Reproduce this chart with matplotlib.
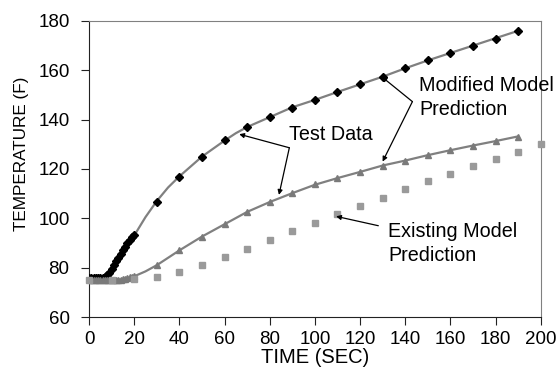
import matplotlib
matplotlib.use("Agg")
import matplotlib.pyplot as plt

plt.rcParams['font.family'] = ['Liberation Sans', 'DejaVu Sans']

# Test data, upper case (black diamonds)
test_up_t = list(range(0, 21)) + [30, 40, 50, 60, 70, 80, 90, 100, 110, 120, 130, 140, 150, 160, 170, 180, 190]
test_up_y = [76, 76, 76, 76, 76, 76, 76, 76.3, 77, 78, 79.5, 81, 82.5, 84, 85.5, 87, 88.5, 90, 91.3, 92.3, 93.3,
             106.8, 116.8, 124.9, 131.6, 137, 140.9, 144.9, 148, 151.2, 154.3, 157.4, 160.8, 164.1, 167, 170, 172.8, 176]

# Test data, lower case (gray triangles)
test_low_t = list(range(0, 21)) + [30, 40, 50, 60, 70, 80, 90, 100, 110, 120, 130, 140, 150, 160, 170, 180, 190]
test_low_y = [75, 75, 75, 75, 75, 75, 75, 75, 75, 75, 75, 75, 75, 75, 75.2, 75.4, 75.6, 75.9, 76.1, 76.3, 76.5,
              81.1, 87.2, 92.6, 97.6, 102.6, 106.8, 110.4, 113.8, 116.2, 118.6, 121.4, 123.4, 125.7, 127.6, 129.5, 131.2, 133.1]

# Modified model predictions (gray lines)
mod_up_t = [0, 6, 8, 10, 12, 15, 18, 20, 25, 30, 35, 40, 50, 60, 65, 70, 80, 90, 100, 110, 120, 130, 140, 150, 160, 170, 180, 190]
mod_up_y = [76, 76, 76.8, 78.5, 81, 85.5, 90, 93, 100.5, 107, 112.5, 117, 125, 131.5, 134.5, 137, 141, 145, 148, 151.2, 154.3, 157.4, 160.8, 164, 167, 170, 173, 176]
mod_low_t = [0, 10, 15, 20, 25, 30, 40, 50, 60, 70, 80, 90, 100, 110, 120, 130, 140, 150, 160, 170, 180, 190]
mod_low_y = [75, 75, 75.3, 76.5, 78.5, 81, 87, 92.6, 97.6, 102.6, 106.6, 110.2, 113.6, 116.3, 118.8, 121.4, 123.4, 125.6, 127.6, 129.5, 131.3, 133.2]

# Existing model prediction (gray squares)
exist_t = [0, 10, 20, 30, 40, 50, 60, 70, 80, 90, 100, 110, 120, 130, 140, 150, 160, 170, 180, 190, 200]
exist_y = [75, 75, 75.3, 76.2, 78.1, 80.9, 84.3, 87.7, 91.2, 94.7, 98.2, 101.8, 105.1, 108.4, 111.8, 115, 118.1, 121.2, 124.2, 127, 130]

x_ticks = list(range(0, 201, 20))
y_ticks = list(range(60, 181, 20))

fig = plt.figure(figsize=(5.6, 3.85), dpi=100)
ax = fig.add_axes([0.159, 0.1766, 0.8065, 0.769])

ax.plot(mod_up_t, mod_up_y, color='#808080', lw=1.6, zorder=2)
ax.plot(mod_low_t, mod_low_y, color='#808080', lw=1.6, zorder=2)
ax.plot(test_up_t, test_up_y, ls='none', marker='D', ms=4.2, color='black', zorder=3)
ax.plot(test_low_t, test_low_y, ls='none', marker='^', ms=5, color='#7a7a7a', zorder=3)
ax.plot(exist_t, exist_y, ls='none', marker='s', ms=4.7, color='#9a9a9a', zorder=3, clip_on=False)

ax.set_xlim(0, 200)
ax.set_ylim(60, 180)
ax.set_xticks(x_ticks)
ax.set_yticks(y_ticks)
ax.tick_params(direction='out', length=5.5, width=0.8, labelsize=13.5, color='#222222')
ax.tick_params(axis='y', pad=8.5)
ax.tick_params(axis='x', pad=4.5)

ax.set_xlabel('TIME (SEC)', fontsize=14.5, labelpad=0)
ax.set_ylabel('TEMPERATURE (F)', fontsize=12.3)
ax.yaxis.set_label_coords(-0.132, 0.552)

for s in ['left', 'bottom']:
    ax.spines[s].set_color('#222222')
    ax.spines[s].set_linewidth(0.8)
for s in ['top', 'right']:
    ax.spines[s].set_color('#808080')
    ax.spines[s].set_linewidth(0.8)

ap = dict(arrowstyle='-|>', lw=0.9, color='black', mutation_scale=7, shrinkA=0, shrinkB=0)
fs = 14.2
ax.text(88.7, 131.8, 'Test Data', fontsize=fs, ha='left', va='baseline')
ax.annotate('', xy=(66.5, 134.1), xytext=(88.7, 128.6), arrowprops=ap)
ax.annotate('', xy=(84.1, 109.5), xytext=(88.7, 128.6), arrowprops=ap)

ax.text(146.2, 141.9, 'Modified Model\nPrediction', fontsize=fs, ha='left', va='baseline', linespacing=1.35, clip_on=False)
ax.annotate('', xy=(129.6, 157.4), xytext=(143.2, 147.3), arrowprops=ap)
ax.annotate('', xy=(130.0, 123.0), xytext=(143.2, 147.3), arrowprops=ap)

ax.text(132.5, 82.7, 'Existing Model\nPrediction', fontsize=fs, ha='left', va='baseline', linespacing=1.35)
ax.annotate('', xy=(109.4, 100.8), xytext=(128.1, 97.0), arrowprops=ap)

fig.savefig('out.png', dpi=100)
